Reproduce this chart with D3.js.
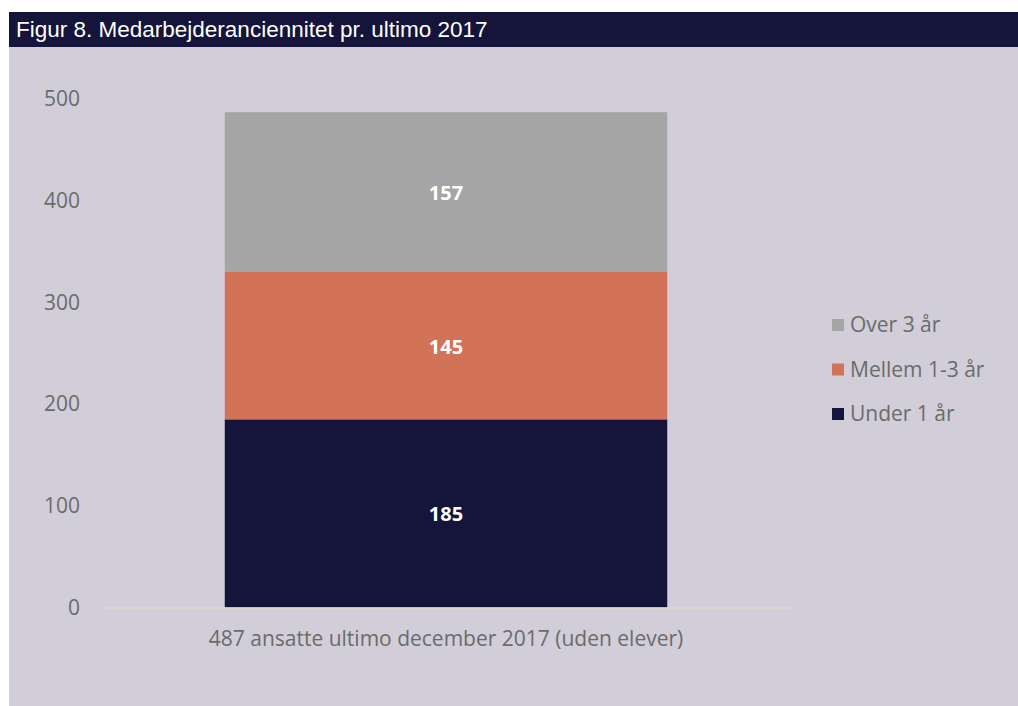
<!DOCTYPE html>
<html>
<head>
<meta charset="utf-8">
<script src="https://cdn.jsdelivr.net/npm/d3@7"></script>
<style>
  body { margin: 0; background: #ffffff; }
  svg { display: block; }
</style>
</head>
<body>
<script>
// data
var categories = ["487 ansatte ultimo december 2017 (uden elever)"];
var seriesNames = ["Under 1 år", "Mellem 1-3 år", "Over 3 år"];
var underOne = [185];
var oneToThree = [145];
var overThree = [157];
var yTicks = [0, 100, 200, 300, 400, 500];
var colors = ["#15143b", "#d27257", "#a5a5a5"];

var W = 1018, H = 706;
var svg = d3.select("body").append("svg")
    .attr("width", W)
    .attr("height", H);

// panel + header
svg.append("rect")
    .attr("x", 9).attr("y", 47)
    .attr("width", W - 9).attr("height", H - 47)
    .attr("fill", "#d1ced9");
svg.append("rect")
    .attr("x", 9).attr("y", 12)
    .attr("width", W - 9).attr("height", 35)
    .attr("fill", "#15143b");
svg.append("text")
    .attr("x", 16).attr("y", 37)
    .style("font-family", "Liberation Sans, Arial, sans-serif")
    .style("font-size", "22.5px")
    .attr("fill", "#ffffff")
    .text("Figur 8. Medarbejderanciennitet pr. ultimo 2017");

// build stacked table
var table = categories.map(function (c, i) {
    return { cat: c, "Under 1 år": underOne[i], "Mellem 1-3 år": oneToThree[i], "Over 3 år": overThree[i] };
});
var stacked = d3.stack().keys(seriesNames)(table);

var x = d3.scaleBand()
    .domain(categories)
    .range([103, 789])
    .paddingInner(0.355)
    .paddingOuter(0.1775);

var y = d3.scaleLinear()
    .domain([0, 500])
    .range([607.5, 99]);

var font = "'Open Sans', sans-serif";

// y axis labels
var yAxis = d3.axisLeft(y).tickValues(yTicks).tickSize(0).tickPadding(0);
var gy = svg.append("g")
    .attr("transform", "translate(80,0)")
    .call(yAxis);
gy.select(".domain").remove();
gy.selectAll("text")
    .style("font-family", font)
    .style("font-size", "21px")
    .attr("fill", "#6b6b6b");

// bars
var layers = svg.append("g").selectAll("g")
    .data(stacked)
    .join("g")
    .attr("fill", function (d, i) { return colors[i]; });

layers.selectAll("rect")
    .data(function (d) { return d; })
    .join("rect")
    .attr("x", function (d) { return x(d.data.cat); })
    .attr("width", x.bandwidth())
    .attr("y", function (d) { return y(d[1]); })
    .attr("height", function (d) { return y(d[0]) - y(d[1]); });

// value labels
layers.selectAll("text")
    .data(function (d) { return d.map(function (p) { return { p: p, v: p[1] - p[0] }; }); })
    .join("text")
    .attr("x", function (d) { return x(d.p.data.cat) + x.bandwidth() / 2; })
    .attr("y", function (d) { return (y(d.p[0]) + y(d.p[1])) / 2; })
    .attr("dy", "0.4em")
    .attr("text-anchor", "middle")
    .style("font-family", font)
    .style("font-size", "20px")
    .style("font-weight", "bold")
    .attr("fill", "#ffffff")
    .text(function (d) { return d.v; });

// x axis
var xAxis = d3.axisBottom(x).tickSize(0).tickPadding(0);
var gx = svg.append("g")
    .attr("transform", "translate(0," + y(0) + ")")
    .call(xAxis);
gx.select(".domain")
    .attr("stroke", "#dcdad0")
    .attr("stroke-width", 1.5);
gx.selectAll("text")
    .attr("dy", "1.85em")
    .style("font-family", font)
    .style("font-size", "21px")
    .attr("fill", "#6b6b6b");

// legend (reverse order: Over 3 år on top)
var legendItems = seriesNames.map(function (n, i) { return { name: n, color: colors[i] }; }).reverse();
var legend = svg.append("g").selectAll("g")
    .data(legendItems)
    .join("g")
    .attr("transform", function (d, i) { return "translate(832," + (325 + i * 44.5) + ")"; });
legend.append("rect")
    .attr("x", 0).attr("y", -6)
    .attr("width", 12).attr("height", 12)
    .attr("fill", function (d) { return d.color; });
legend.append("text")
    .attr("x", 18)
    .attr("dy", "0.35em")
    .style("font-family", font)
    .style("font-size", "21px")
    .attr("fill", "#6b6b6b")
    .text(function (d) { return d.name; });
</script>
</body>
</html>
